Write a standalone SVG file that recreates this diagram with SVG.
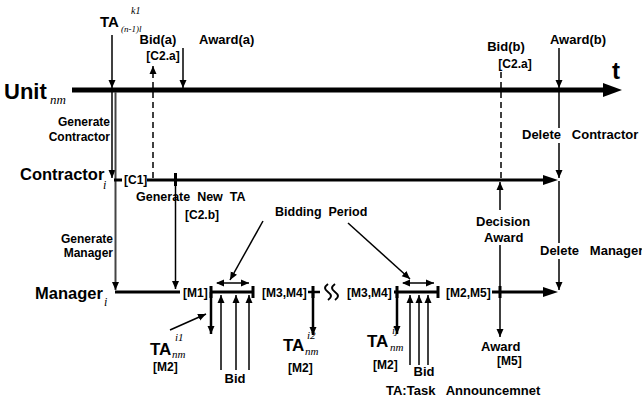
<svg xmlns="http://www.w3.org/2000/svg" width="642" height="403" viewBox="0 0 642 403">
<defs>
<marker id="ah" markerUnits="userSpaceOnUse" markerWidth="9" markerHeight="8" refX="8" refY="4" orient="auto"><path d="M0,0.5 L8,4 L0,7.5 z" fill="#000"/></marker>
<marker id="ahs" markerUnits="userSpaceOnUse" markerWidth="9" markerHeight="8" refX="1" refY="4" orient="auto"><path d="M8,0.5 L0,4 L8,7.5 z" fill="#000"/></marker>
</defs>
<style>
text{font-family:"Liberation Sans",Arial,sans-serif;font-weight:bold;fill:#000;white-space:pre}
.s{font-size:12px}
.m{font-size:13px}
.b{font-size:16.5px}
.it{font-family:"Liberation Serif","Times New Roman",serif;font-style:italic;font-weight:normal}
.ln{stroke:#000;fill:none}
.th{stroke-width:1.5}
.md{stroke-width:2.5}
.tk{stroke-width:3}
.ds{stroke-dasharray:6,4;stroke-width:1.5}
</style>
<g id="unit">
<text x="4" y="99" style="font-size:22px">Unit</text>
<text x="50" y="104" class="it" style="font-size:13px">nm</text>
<text x="612" y="79" style="font-size:24px">t</text>
</g>
<g id="contractor">
<text x="20" y="180" class="b">Contractor</text>
<text x="103" y="189" class="it" style="font-size:12px">i</text>
<text x="124" y="184" class="s">[C1]</text>
</g>
<g id="manager">
<text x="35" y="299" class="b">Manager</text>
<text x="104" y="306" class="it" style="font-size:12px">i</text>
<text x="183" y="297" class="s">[M1]</text>
<text x="262" y="297" class="s">[M3,M4]</text>
<text x="347" y="297" class="s">[M3,M4]</text>
<text x="446" y="297" class="s">[M2,M5]</text>
</g>
<g id="labels">
<text x="100" y="27" style="font-size:15px">TA</text>
<text x="131" y="14" class="it" style="font-size:10px">k1</text>
<text x="121" y="32" class="it" style="font-size:9px">(n-1)l</text>
<text x="158" y="44" class="m" text-anchor="middle">Bid(a)</text>
<text x="163" y="60" class="s" text-anchor="middle">[C2.a]</text>
<text x="199" y="44" class="m">Award(a)</text>
<text x="506" y="51" class="m" text-anchor="middle">Bid(b)</text>
<text x="515" y="68" class="s" text-anchor="middle">[C2.a]</text>
<text x="578" y="44" class="m" text-anchor="middle">Award(b)</text>
<text x="522" y="139" class="m">Delete   Contractor</text>
<text x="540" y="255" class="m">Delete   Manager</text>
<text x="476" y="226" class="m">Decision</text>
<text x="484" y="242" class="m">Award</text>
<text x="110" y="126" class="s" text-anchor="end">Generate</text>
<text x="110" y="141" class="s" text-anchor="end">Contractor</text>
<text x="113" y="243" class="s" text-anchor="end">Generate</text>
<text x="113" y="257" class="s" text-anchor="end">Manager</text>
<text x="136" y="201" class="m" style="font-size:12.5px">Generate  New  TA</text>
<text x="185" y="219" class="s">[C2.b]</text>
<text x="275" y="216" style="font-size:12.5px">Bidding  Period</text>
<text x="150" y="355" style="font-size:17px">TA</text>
<text x="175" y="341" class="it" style="font-size:11px">i1</text>
<text x="172" y="358" class="it" style="font-size:11px">nm</text>
<text x="153" y="371" class="s">[M2]</text>
<text x="235" y="383" class="m" text-anchor="middle">Bid</text>
<text x="283" y="351" style="font-size:17px">TA</text>
<text x="307" y="339" class="it" style="font-size:11px">i2</text>
<text x="305" y="355" class="it" style="font-size:11px">nm</text>
<text x="288" y="372" class="s">[M2]</text>
<text x="367" y="347" style="font-size:17px">TA</text>
<text x="392" y="334" class="it" style="font-size:11px">ij</text>
<text x="390" y="351" class="it" style="font-size:11px">nm</text>
<text x="373" y="369" class="s">[M2]</text>
<text x="424" y="376" class="m" text-anchor="middle">Bid</text>
<text x="481" y="351" class="m">Award</text>
<text x="497" y="365" class="s">[M5]</text>
<text x="386" y="395" class="m">TA:Task   Announcemnet</text>
</g>
<g id="connectors">
<line class="ln" x1="72" y1="90" x2="606" y2="90" stroke-width="5"/>
<polygon points="603,83 622,90 603,97" fill="#000"/>
<line class="ln th" x1="112" y1="35" x2="112" y2="88" marker-end="url(#ah)"/>
<line class="ln ds" x1="153" y1="178" x2="153" y2="66" marker-end="url(#ah)"/>
<line class="ln th" x1="183" y1="48" x2="183" y2="88" marker-end="url(#ah)"/>
<line class="ln ds" x1="501" y1="72" x2="501" y2="178"/>
<line class="ln th" x1="559" y1="48" x2="559" y2="88" marker-end="url(#ah)"/>
<line class="ln th" x1="559" y1="92" x2="559" y2="128"/>
<line class="ln th" x1="559" y1="143" x2="559" y2="178" marker-end="url(#ah)"/>
<line class="ln th" x1="559" y1="181" x2="559" y2="243"/>
<line class="ln th" x1="559" y1="259" x2="559" y2="290" marker-end="url(#ah)"/>
<line class="ln th" x1="112" y1="92" x2="112" y2="178" marker-end="url(#ah)"/>
<line x1="115.5" y1="92" x2="115.5" y2="290" stroke="#444" stroke-width="2" marker-end="url(#ah)"/>
<line class="ln tk" x1="114" y1="180" x2="122" y2="180"/>
<line class="ln tk" x1="147" y1="180" x2="546" y2="180"/>
<polygon points="543,175 558,180 543,185" fill="#000"/>
<line class="ln" x1="175.5" y1="173" x2="175.5" y2="186" stroke-width="3"/>
<line class="ln th" x1="175.5" y1="186" x2="175.5" y2="289" marker-end="url(#ah)"/>
<line class="ln th" x1="500" y1="210" x2="500" y2="182" marker-end="url(#ah)"/>
<line class="ln th" x1="500" y1="245" x2="500" y2="292"/>
<line class="ln tk" x1="115" y1="292" x2="180" y2="292"/>
<line class="ln tk" x1="211" y1="292" x2="253" y2="292"/>
<line class="ln" x1="211" y1="286" x2="211" y2="298" stroke-width="3"/>
<line class="ln" x1="253" y1="286" x2="253" y2="298" stroke-width="3"/>
<line class="ln th" x1="217" y1="283" x2="249" y2="283" marker-start="url(#ahs)" marker-end="url(#ah)"/>
<line class="ln md" x1="211" y1="292" x2="211" y2="334" marker-end="url(#ah)"/>
<line class="ln th" x1="221" y1="370" x2="221" y2="295" marker-end="url(#ah)"/>
<line class="ln th" x1="236" y1="370" x2="236" y2="295" marker-end="url(#ah)"/>
<line class="ln th" x1="249" y1="370" x2="249" y2="295" marker-end="url(#ah)"/>
<line class="ln th" x1="170" y1="330" x2="206" y2="314" marker-end="url(#ah)"/>
<line class="ln" x1="308" y1="292" x2="320" y2="292" stroke-width="2.5"/>
<line class="ln" x1="313" y1="286" x2="313" y2="298" stroke-width="3"/>
<line class="ln md" x1="313" y1="292" x2="313" y2="335" marker-end="url(#ah)"/>
<path class="ln" stroke-width="2" d="M328,284 c-4,3 -4,5 0,8 s4,5 0,8 M335,284 c-4,3 -4,5 0,8 s4,5 0,8"/>
<line class="ln th" x1="263" y1="221" x2="230" y2="280" marker-end="url(#ah)"/>
<line class="ln th" x1="348" y1="223" x2="410" y2="279" marker-end="url(#ah)"/>
<line class="ln tk" x1="394" y1="292" x2="438" y2="292"/>
<line class="ln" x1="397" y1="286" x2="397" y2="298" stroke-width="3"/>
<line class="ln" x1="438" y1="286" x2="438" y2="298" stroke-width="3"/>
<line class="ln th" x1="403" y1="283" x2="434" y2="283" marker-start="url(#ahs)" marker-end="url(#ah)"/>
<line class="ln md" x1="397" y1="292" x2="397" y2="334" marker-end="url(#ah)"/>
<line class="ln th" x1="410" y1="365" x2="410" y2="295" marker-end="url(#ah)"/>
<line class="ln th" x1="419" y1="365" x2="419" y2="295" marker-end="url(#ah)"/>
<line class="ln th" x1="428" y1="365" x2="428" y2="295" marker-end="url(#ah)"/>
<line class="ln tk" x1="492" y1="292" x2="546" y2="292"/>
<polygon points="543,287 558,292 543,297" fill="#000"/>
<line class="ln" x1="500" y1="286" x2="500" y2="298" stroke-width="3"/>
<line class="ln th" x1="500" y1="292" x2="500" y2="337" marker-end="url(#ah)"/>
</g>
</svg>
